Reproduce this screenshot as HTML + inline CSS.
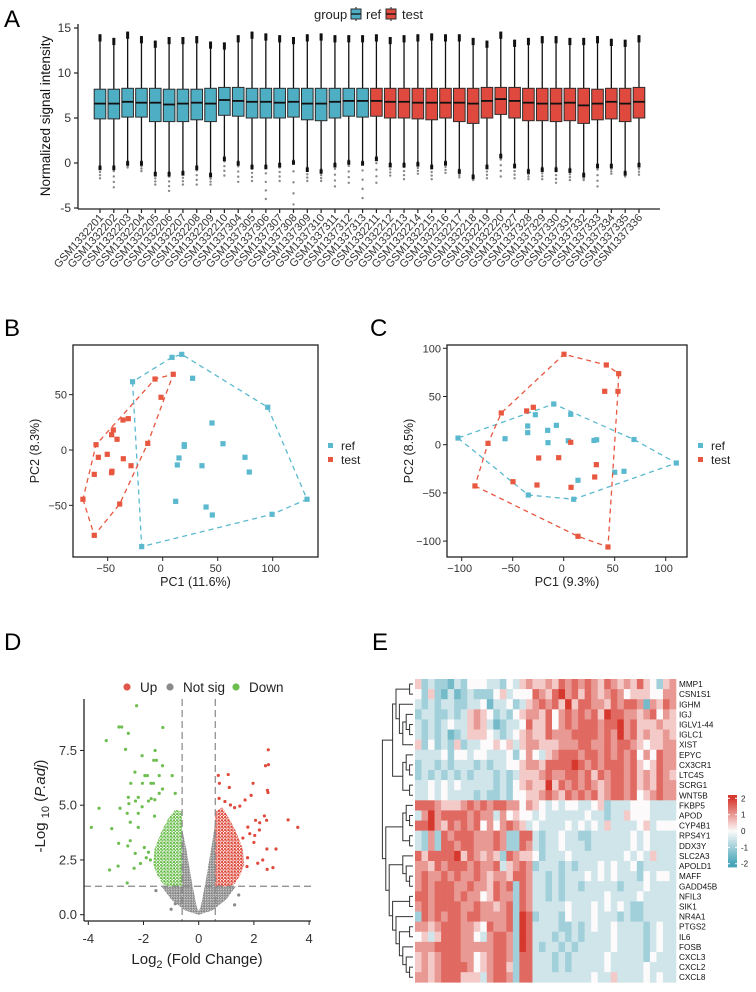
<!DOCTYPE html>
<html><head><meta charset="utf-8">
<style>
html,body{margin:0;padding:0;background:#fff;}
svg{display:block;font-family:"Liberation Sans",Arial,sans-serif;}
</style></head>
<body>
<svg id="fig" width="756" height="992" viewBox="0 0 756 992" xmlns="http://www.w3.org/2000/svg">
<defs>
<pattern id="dotsGreen" width="3.2" height="3.2" patternUnits="userSpaceOnUse"><circle cx="1.2" cy="1.2" r="1.25" fill="#6DBE4F"/><circle cx="2.8" cy="2.7" r="0.9" fill="#6DBE4F"/></pattern>
<pattern id="dotsRed" width="3.2" height="3.2" patternUnits="userSpaceOnUse"><circle cx="1.2" cy="1.2" r="1.25" fill="#DF4A3C"/><circle cx="2.8" cy="2.7" r="0.9" fill="#DF4A3C"/></pattern>
<pattern id="dotsGray" width="2.6" height="2.6" patternUnits="userSpaceOnUse"><circle cx="1.1" cy="1.1" r="1.2" fill="#8a8a8a"/><circle cx="2.3" cy="2.3" r="0.9" fill="#8a8a8a"/></pattern>
</defs>
<rect width="756" height="992" fill="#fff"/>
<text x="4" y="27" font-size="24">A</text>
<text x="4" y="336" font-size="24">B</text>
<text x="370" y="336" font-size="24">C</text>
<text x="4" y="650" font-size="24">D</text>
<text x="372" y="650" font-size="24">E</text>
<g id="pA"></g>
<g id="pB"></g>
<g id="pC"></g>
<g id="pD"></g>
<g id="pE"></g>
</svg>
<script>
// ---------- Panel A data ----------
const sampleNames = ["GSM1332201","GSM1332202","GSM1332203","GSM1332204","GSM1332205","GSM1332206","GSM1332207","GSM1332208","GSM1332209","GSM1332210","GSM1337304","GSM1337305","GSM1337306","GSM1337307","GSM1337308","GSM1337309","GSM1337310","GSM1337311","GSM1337312","GSM1337313","GSM1332211","GSM1332212","GSM1332213","GSM1332214","GSM1332215","GSM1332216","GSM1332217","GSM1332218","GSM1332219","GSM1332220","GSM1337327","GSM1337328","GSM1337329","GSM1337330","GSM1337331","GSM1337332","GSM1337333","GSM1337334","GSM1337335","GSM1337336"];
const sampleGroup = ["ref","ref","ref","ref","ref","ref","ref","ref","ref","ref","ref","ref","ref","ref","ref","ref","ref","ref","ref","ref","test","test","test","test","test","test","test","test","test","test","test","test","test","test","test","test","test","test","test","test"];
const boxMedian = [6.6,6.6,6.8,6.7,6.7,6.5,6.6,6.7,6.6,7.0,6.9,6.8,6.8,6.7,6.8,6.6,6.6,6.8,6.9,6.9, 6.9,6.8,6.8,6.7,6.7,6.7,6.7,6.6,6.9,7.1,6.9,6.7,6.6,6.6,6.7,6.4,6.6,6.8,6.6,6.8];
const boxQ1 = [4.9,4.9,5.1,5.1,4.6,4.6,4.6,4.8,4.6,5.3,5.2,5.0,5.0,5.0,5.1,4.8,4.7,5.0,5.2,5.1, 5.2,5.0,5.0,4.9,4.8,5.0,4.6,4.4,5.0,5.4,5.0,4.7,4.7,4.6,4.7,4.4,4.8,4.9,4.6,5.0];
const boxQ3 = [8.2,8.2,8.3,8.3,8.3,8.2,8.2,8.2,8.3,8.4,8.4,8.3,8.3,8.3,8.3,8.3,8.3,8.3,8.3,8.3, 8.3,8.3,8.3,8.3,8.3,8.3,8.3,8.3,8.4,8.4,8.4,8.3,8.3,8.3,8.3,8.3,8.2,8.3,8.3,8.4];
const whiskHigh = [14.3,13.9,14.6,14.1,13.6,14.0,14.0,14.1,13.5,13.4,14.2,14.6,14.4,14.2,14.0,14.3,14.4,14.2,14.2,14.2, 14.3,14.0,14.2,14.3,14.4,14.3,14.3,13.9,13.6,14.6,13.7,13.9,14.1,14.1,13.9,13.9,14.1,13.8,13.7,14.2];
const whiskLow = [-0.3,-0.3,0.2,0.2,-1.0,-1.0,-0.9,-0.3,-1.1,0.7,0.2,-0.2,-0.2,0.0,0.3,-0.5,-0.7,0.0,0.3,0.2, 0.7,0.0,0.0,0.1,-0.2,0.2,-0.7,-1.3,-0.2,1.0,-0.1,-0.7,-0.5,-0.5,-0.6,-1.1,-0.1,-0.1,-0.9,0.0];
const outlierMin = [-1.7,-2.7,-0.5,-0.9,-2.4,-3.1,-2.4,-2.4,-2.4,-1.4,-2.1,-2.0,-4.0,-2.0,-4.6,-2.0,-2.0,-2.6,-2.2,-3.9, -2.2,-1.4,-1.8,-1.2,-1.8,-1.1,-1.6,-1.9,-1.7,-1.5,-1.7,-1.8,-1.8,-2.2,-1.9,-1.9,-2.6,-1.2,-1.5,-1.3];
const yTicksA = [-5,0,5,10,15];

// ---------- Panel B/C data ----------
const pcaB_refX = [-27.4,8.5,17.3,27.2,95.5,131.2,99.4,-19.1,44.8,54.8,19.6,19.6,14.8,13.3,35.7,74.8,78.7,11.8,39.4,45.1];
const pcaB_refY = [61.7,83.7,86.4,64.8,38.6,-44.5,-58.1,-87.3,24.4,5.7,4.8,3.3,-7.2,-13.5,-14.2,-6.6,-19.9,-46.4,-51.5,-58.7];
const pcaB_testX = [-72.5,-62.2,-60.6,-58.5,-62.2,-50.4,-46.4,-44.9,-41.5,-46.1,-35.8,-36.1,-31.3,-28.8,-39.1,-13.6,-1.5,-7,9.6,-46.5];
const pcaB_testY = [-44.5,-77.1,4.8,-6.6,-22,-3.9,13.8,18.1,9.7,-19.2,-7.9,27.1,28.3,-14.2,-48.8,6,47.6,64.1,68.4,-20.5];
const pcaC_refX = [-103.6,-57.5,-35.3,-35.3,-27.8,-9.8,-15.7,-7.2,-15.4,6.9,4.5,29.7,32.3,68.9,110.4,50,59.1,14,9.8,-34.7];
const pcaC_refY = [6.9,6.2,19.4,12.5,31.1,42.2,14.9,20.1,2.1,31.5,4.1,4.4,5.1,5.4,-19,-28.6,-27.6,-36.9,-56.6,-52.2];
const pcaC_testX = [-87,-74.2,-61.2,-49.7,-36.3,-29.8,-24.5,-26.2,-4.9,6.9,7.2,0.3,41.8,53.9,40.2,53.2,32,30.4,14,43.4];
const pcaC_testY = [-42.8,1.4,32.9,-38.4,35,38.8,-13.8,-41.8,-13.5,2.5,-44.2,93.8,82.7,73.7,55.4,55.4,-20.7,-33.5,-95,-106.1];

// ---------- Panel D data ----------
const downFC = [-2.25,-2.89,-2.79,-1.30,-2.55,-3.35,-2.65,-1.58,-2.05,-1.63,-1.53,-1.31,-2.31,-1.95,-1.86,-1.43,-0.96,-2.46,-2.04,-1.73,-1.64,-1.31,-1.43,-0.85,-2.55,-2.29,-2.19,-2.53,-2.05,-1.82,-1.72,-1.59,-3.61,-2.85,-2.59,-2.19,-3.89,-3.15,-2.48,-2.19,-2.48,-2.9,-2.57,-3.23,-2.92,-2.59,-2.34,-2.11,-1.97,-1.82,-1.75,-1.9,-1.6,-2.3];
const downP = [9.54,8.57,8.57,8.55,8.28,7.95,7.55,7.5,7.26,7.05,7.05,6.8,6.51,6.35,6.35,6.35,6.35,6.0,6.0,6.0,6.0,5.74,5.54,5.54,5.36,5.19,5.36,5.07,4.93,5.19,5.3,5.25,4.86,4.86,4.63,4.63,3.99,3.93,4.22,3.99,3.38,3.26,3.14,2.04,2.22,1.45,2.12,2.34,3.07,2.85,2.5,2.6,4.5,2.8];
const upFC = [2.52,2.42,2.53,0.71,1.07,0.75,1.11,1.97,2.49,2.51,1.9,1.68,1.49,0.74,0.95,1.15,1.3,2.38,2.46,2.06,3.24,3.59,1.78,2.2,2.03,2.21,2.47,2.8,2.32,2.14,2.48,2.69,1.77,1.85,1.6,2.0,1.75];
const upP = [7.53,6.8,6.85,6.36,6.4,6.0,5.81,6.0,5.68,5.58,5.45,5.24,4.96,5.31,5.17,5.01,4.89,4.51,4.31,4.31,4.33,3.99,4.0,3.87,3.62,4.2,3.0,3.0,2.5,2.35,2.07,2.15,2.6,3.7,3.5,3.3,2.2];
const downDenseFC = [-0.6,-0.6,-0.85,-1.1,-1.35,-1.6,-1.65,-1.5,-1.3,-1.1];
const downDenseP = [1.3,4.7,4.8,4.4,3.8,3.0,2.3,1.8,1.4,1.3];
const upDenseFC = [0.6,0.6,0.85,1.1,1.35,1.6,1.65,1.5,1.3,1.1];
const upDenseP = [1.3,4.7,4.9,4.4,3.8,3.0,2.3,1.8,1.4,1.3];
const nsFC = [-0.6,-0.6,-1.35,-1.0,-0.5,0,0.5,1.0,1.35,0.6,0.6,0.45,0.25,0.08,0,-0.08,-0.25,-0.45];
const nsP = [3.9,1.3,1.3,0.7,0.2,0,0.2,0.7,1.3,1.3,4.2,3.0,1.5,0.4,0.15,0.4,1.5,3.0];
const nsSparseFC = [-1.55,1.3,1.45,-1.0,-0.85];
const nsSparseP = [1.1,0.45,0.9,0.25,0.5];
const xTicksD = [-4,-2,0,2,4];
const yTicksD = [0,2.5,5,7.5];
const yTickLabelsD = ["0.0","2.5","5.0","7.5"];

// ---------- Panel E data ----------
const geneNames = ["MMP1","CSN1S1","IGHM","IGJ","IGLV1-44","IGLC1","XIST","EPYC","CX3CR1","LTC4S","SCRG1","WNT5B","FKBP5","APOD","CYP4B1","RPS4Y1","DDX3Y","SLC2A3","APOLD1","MAFF","GADD45B","NFIL3","SIK1","NR4A1","PTGS2","IL6","FOSB","CXCL3","CXCL2","CXCL8"];
const heatRows = [
"5232213244433243565565767676576565754256",
"4252131232224534447657867576567645554466",
"3232332233413342356767585776657677616576",
"2332232356542324566574676767587766567465",
"3232343356531233475574676777677867555655",
"3232312355543234565576667777676867565565",
"5242325233445453566555666776676776545566",
"3333424434433342464356777677676767464766",
"2332323332323344566577778767677767545766",
"2323232323332323555676677675767767565765",
"3343434333332324565585767676567767565766",
"3343433332322324455676576767567767456766",
"7776555676767766465434344334523334443333",
"3686777767663645443433333343323354443333",
"7786576767464676534333343434353333453444",
"3262767776667622773233433223333334343333",
"3262776776667622763233433323333334343333",
"7577778576565276554233343333333343435333",
"6657677767667356762333232333434334233333",
"6766767667656657763323233343434333243443",
"6767776676657672763323233233333233343333",
"7767776766457662763323233333343333433333",
"6767777667665672763333343334343432233333",
"2767677677666672872333243334333232233333",
"6656777665476672873333223234334333323433",
"4535777664367762873332323233334333323433",
"6667777666667762873233232333334333323433",
"5656777664567762773332323333343333324333",
"5656777764567752773332323333343333343333",
"6656777555367762773333333334335333343433"];
const dendroTree = [[[[0,1],[2,[[3,[4,5]],6]]],[[7,[8,9]],[10,11]]],[[[12,[13,14]],[15,16]],[[17,[18,[19,20]]],[[21,22],[23,[[24,25],[26,[27,[28,29]]]]]]]]];
const legendTicksE = [2,1,0,-1,-2];

// ---------- helpers ----------
const NS = "http://www.w3.org/2000/svg";
function mk(parent, tag, attrs, text){
  const e = document.createElementNS(NS, tag);
  for (const k in attrs) e.setAttribute(k, attrs[k]);
  if (text !== undefined) e.textContent = text;
  parent.appendChild(e);
  return e;
}
const REF = "#4EAFC4", TEST = "#E04A3E", EDGE = "#2b2b2b";

// ---------- Panel A ----------
(function(){
  const g = document.getElementById("pA");
  const yA = v => 163 - 9*v;
  const xA = i => 100 + i*13.82;
  let e;
  e = mk(g,"line",{x1:78,y1:24,x2:78,y2:209,stroke:"#222","stroke-width":1.3});
   
  e = mk(g,"line",{x1:78,y1:209,x2:660,y2:209,stroke:"#222","stroke-width":1.3});
   
  yTicksA.forEach(t=>{
    mk(g,"line",{x1:74,y1:yA(t),x2:78,y2:yA(t),stroke:"#222","stroke-width":1.2});
    e = mk(g,"text",{x:71,y:yA(t)+4,"font-size":12,"text-anchor":"end",fill:"#333"},String(t));
     
  });
  e = mk(g,"text",{transform:"translate(50,116) rotate(-90)","font-size":13.5,"text-anchor":"middle",fill:"#111"},"Normalized signal intensity");
   
  sampleNames.forEach((nm,i)=>{
    const x = xA(i), col = sampleGroup[i]==="ref"?REF:TEST;
    const b = mk(g,"g",{});
     
    for (let k=0;k<5;k++){
      const v = whiskLow[i] - (whiskLow[i]-outlierMin[i])*k/4;
      mk(b,"circle",{cx:x,cy:yA(v),r:1.2,fill:"#888"});
    }
    mk(b,"line",{x1:x,y1:yA(whiskHigh[i]),x2:x,y2:yA(whiskLow[i]),stroke:"#111","stroke-width":1.3});
    mk(b,"line",{x1:x,y1:yA(whiskHigh[i]),x2:x,y2:yA(whiskHigh[i]-0.8),stroke:"#111","stroke-width":3});
    mk(b,"line",{x1:x,y1:yA(whiskLow[i]),x2:x,y2:yA(whiskLow[i]-0.5),stroke:"#111","stroke-width":3});
    mk(b,"rect",{x:x-5.8,y:yA(boxQ3[i]),width:11.6,height:yA(boxQ1[i])-yA(boxQ3[i]),fill:col,stroke:EDGE,"stroke-width":1});
    mk(b,"line",{x1:x-5.8,y1:yA(boxMedian[i]),x2:x+5.8,y2:yA(boxMedian[i]),stroke:"#111","stroke-width":1.8});
    mk(g,"line",{x1:x,y1:209,x2:x,y2:213,stroke:"#222","stroke-width":1.2});
    e = mk(g,"text",{transform:`translate(${x+4},${218}) rotate(-48)`,"font-size":11,"text-anchor":"end",fill:"#333"},nm);
     
  });
  const lg = mk(g,"g",{});
   
  mk(lg,"text",{x:314,y:19,"font-size":13,fill:"#222"},"group");
  [["ref",351,REF,366],["test",386,TEST,402]].forEach(([lab,kx,c,tx])=>{
    mk(lg,"line",{x1:kx+5,y1:7,x2:kx+5,y2:21,stroke:"#111","stroke-width":1});
    mk(lg,"rect",{x:kx,y:9,width:10,height:10,fill:c,stroke:EDGE,"stroke-width":1});
    mk(lg,"line",{x1:kx,y1:14,x2:kx+10,y2:14,stroke:"#111","stroke-width":1.3});
    mk(lg,"text",{x:tx,y:19,"font-size":13,fill:"#222"},lab);
  });
})();

// ---------- PCA ----------
function hull(px,py){
  const pts = px.map((x,i)=>[x,py[i]]).sort((a,b)=>a[0]-b[0]||a[1]-b[1]);
  const cr=(o,a,b)=>(a[0]-o[0])*(b[1]-o[1])-(a[1]-o[1])*(b[0]-o[0]);
  const lo=[],up=[];
  for(const p of pts){while(lo.length>=2&&cr(lo[lo.length-2],lo[lo.length-1],p)<=0)lo.pop();lo.push(p);}
  for(const p of pts.slice().reverse()){while(up.length>=2&&cr(up[up.length-2],up[up.length-1],p)<=0)up.pop();up.push(p);}
  return lo.slice(0,-1).concat(up.slice(0,-1));
}
function pca(id,F,sx,sy,xt,yt,refX,refY,testX,testY,xTitle,yTitle,legX){
  const g = document.getElementById(id);
  let e;
  e = mk(g,"rect",{x:F[0],y:F[1],width:F[2]-F[0],height:F[3]-F[1],fill:"none",stroke:"#222","stroke-width":1.3});
   
  xt.forEach(t=>{
    mk(g,"line",{x1:sx(t),y1:F[3],x2:sx(t),y2:F[3]+4,stroke:"#222"});
    e = mk(g,"text",{x:sx(t)-2,y:F[3]+15,"font-size":11,"text-anchor":"middle",fill:"#333"},String(t).replace("-","\u2212"));
     
  });
  yt.forEach(t=>{
    mk(g,"line",{x1:F[0]-4,y1:sy(t),x2:F[0],y2:sy(t),stroke:"#222"});
    e = mk(g,"text",{x:F[0]-6,y:sy(t)+4,"font-size":11,"text-anchor":"end",fill:"#333"},String(t).replace("-","\u2212"));
     
  });
  e = mk(g,"text",{x:(F[0]+F[2])/2,y:F[3]+29,"font-size":12.5,"text-anchor":"middle",fill:"#222"},xTitle);
   
  e = mk(g,"text",{transform:`translate(${F[0]-34},${(F[1]+F[3])/2}) rotate(-90)`,"font-size":12.5,"text-anchor":"middle",fill:"#222"},yTitle);
   
  [[refX,refY,"#5BB9CF","ref"],[testX,testY,"#E8573F","test"]].forEach(([X,Y,c,nm])=>{
    const h = hull(X,Y);
    e = mk(g,"polygon",{points:h.map(p=>sx(p[0])+","+sy(p[1])).join(" "),fill:"none",stroke:c,"stroke-width":1.3,"stroke-dasharray":"5,4"});
     
    X.forEach((x,i)=>{
      e = mk(g,"rect",{x:sx(x)-2.6,y:sy(Y[i])-2.6,width:5.2,height:5.2,fill:c});
       
    });
  });
  const lg = mk(g,"g",{});
   
  mk(lg,"rect",{x:legX,y:443,width:5,height:5,fill:"#5BB9CF"});
  mk(lg,"text",{x:legX+13,y:450,"font-size":12,fill:"#222"},"ref");
  mk(lg,"rect",{x:legX,y:457,width:5,height:5,fill:"#E8573F"});
  mk(lg,"text",{x:legX+13,y:464,"font-size":12,fill:"#222"},"test");
}
pca("pB",[73,345,318,557],v=>162.7+1.1*v,v=>450-1.107*v,[-50,0,50,100],[-50,0,50],pcaB_refX,pcaB_refY,pcaB_testX,pcaB_testY,"PC1 (11.6%)","PC2 (8.3%)",328);
pca("pC",[447,345,687,557],v=>563.7+1.02*v,v=>444.7-0.964*v,[-100,-50,0,50,100],[-100,-50,0,50,100],pcaC_refX,pcaC_refY,pcaC_testX,pcaC_testY,"PC1 (9.3%)","PC2 (8.5%)",698);

// ---------- Panel D ----------
(function(){
  const g = document.getElementById("pD");
  const xD = v => 198.7 + 27.6*v;
  const yD = v => 914.7 - 21.9*v;
  let e;
  const poly=(X,Y,fillUrl,nm)=>{
    e = mk(g,"polygon",{points:X.map((x,i)=>xD(x)+","+yD(Y[i])).join(" "),fill:fillUrl,stroke:"none"});
     
  };
  poly(nsFC,nsP,"url(#dotsGray)","not-sig-cloud");
  poly(downDenseFC,downDenseP,"url(#dotsGreen)","down-cloud");
  poly(upDenseFC,upDenseP,"url(#dotsRed)","up-cloud");
  nsSparseFC.forEach((x,i)=>{ e=mk(g,"circle",{cx:xD(x),cy:yD(nsSparseP[i]),r:1.6,fill:"#8a8a8a"});  });
  downFC.forEach((x,i)=>{ e=mk(g,"circle",{cx:xD(x),cy:yD(downP[i]),r:1.6,fill:"#6DBE4F"});  });
  upFC.forEach((x,i)=>{ e=mk(g,"circle",{cx:xD(x),cy:yD(upP[i]),r:1.6,fill:"#DF4A3C"});  });
  [-0.6,0.6].forEach(v=>{ e=mk(g,"line",{x1:xD(v),y1:699,x2:xD(v),y2:921,stroke:"#888","stroke-width":1.2,"stroke-dasharray":"7,4"});  });
  e=mk(g,"line",{x1:84,y1:yD(1.3),x2:311,y2:yD(1.3),stroke:"#888","stroke-width":1.2,"stroke-dasharray":"7,4"});
   
  mk(g,"line",{x1:84,y1:699,x2:84,y2:921,stroke:"#222","stroke-width":1.3});
  mk(g,"line",{x1:84,y1:921,x2:311,y2:921,stroke:"#222","stroke-width":1.3});
  xTicksD.forEach(t=>{
    mk(g,"line",{x1:xD(t),y1:921,x2:xD(t),y2:925,stroke:"#222"});
    e=mk(g,"text",{x:xD(t),y:943,"font-size":13,"text-anchor":"middle",fill:"#333"},String(t));
     
  });
  yTicksD.forEach((t,i)=>{
    mk(g,"line",{x1:80,y1:yD(t),x2:84,y2:yD(t),stroke:"#222"});
    e=mk(g,"text",{x:77,y:yD(t)+4.5,"font-size":13,"text-anchor":"end",fill:"#333"},yTickLabelsD[i]);
     
  });
  e=mk(g,"text",{x:197,y:964,"font-size":15,"text-anchor":"middle",fill:"#222"});
  e.innerHTML='Log<tspan font-size="11" dy="4">2</tspan><tspan dy="-4"> (Fold Change)</tspan>';
   
  e=mk(g,"text",{transform:"translate(45,806) rotate(-90)","font-size":15,"text-anchor":"middle",fill:"#222"});
  e.innerHTML='-Log <tspan font-size="11" dy="4">10</tspan><tspan dy="-4"> (</tspan><tspan font-style="italic">P.adj</tspan>)';
   
  const lg = mk(g,"g",{});
   
  [["Up","#E0564A",127,140],["Not sig","#8a8a8a",170,183],["Down","#6DBE4F",236,249]].forEach(([t,c,cx,tx])=>{
    mk(lg,"circle",{cx:cx,cy:687,r:3.6,fill:c});
    mk(lg,"text",{x:tx,y:692,"font-size":13.5,fill:"#222"},t);
  });
})();

// ---------- Panel E ----------
(function(){
  const g = document.getElementById("pE");
  const x0=415, x1=676, y0=679, rh=10.11, nc=40, cw=(x1-x0)/nc;
  const col = v=>{
    const blue=[70,165,185], white=[252,250,250], red=[214,56,46];
    const t=Math.max(-1,Math.min(1,v/2));
    const a=t<0?blue:red, f=Math.abs(t);
    return `rgb(${Math.round(white[0]+(a[0]-white[0])*f)},${Math.round(white[1]+(a[1]-white[1])*f)},${Math.round(white[2]+(a[2]-white[2])*f)})`;
  };
  let e;
  heatRows.forEach((row,r)=>{
    for(let c=0;c<nc;c++){
      const d = row.length>c ? +row[c] : 4;
      e=mk(g,"rect",{x:x0+c*cw,y:y0+r*rh,width:cw+0.3,height:rh+0.3,fill:col((d-4)/2)});
       
    }
    e=mk(g,"text",{x:679,y:y0+r*rh+rh/2+3,"font-size":8.2,fill:"#111"},geneNames[r]);
     
  });
  const dg = mk(g,"g",{});
   
  function walk(n){
    if(typeof n==="number") return {y:y0+n*rh+rh/2,h:0};
    const a=walk(n[0]), b=walk(n[1]);
    const h=Math.max(a.h,b.h)+1;
    const X=hx=>413-hx*3.4;
    mk(dg,"path",{d:`M${X(a.h)},${a.y}H${X(h)}V${b.y}H${X(b.h)}`,fill:"none",stroke:"#333","stroke-width":1});
    return {y:(a.y+b.y)/2,h:h};
  }
  walk(dendroTree);
  const lg = mk(g,"g",{});
   
  const ly0=795, ly1=867, nstep=40;
  for(let i=0;i<nstep;i++){
    const v = 2.2 - 4.4*(i+0.5)/nstep;
    mk(lg,"rect",{x:728,y:ly0+(ly1-ly0)*i/nstep,width:9,height:(ly1-ly0)/nstep+0.4,fill:col(v)});
  }
  legendTicksE.forEach(t=>{
    const y = ly0 + (ly1-ly0)*(2.2-t)/4.4;
    mk(lg,"line",{x1:728,y1:y,x2:730,y2:y,stroke:"#fff"});
    mk(lg,"line",{x1:735,y1:y,x2:737,y2:y,stroke:"#fff"});
    mk(lg,"text",{x:741,y:y+3,"font-size":8,fill:"#222"},String(t));
  });
})();
</script>
</body></html>
